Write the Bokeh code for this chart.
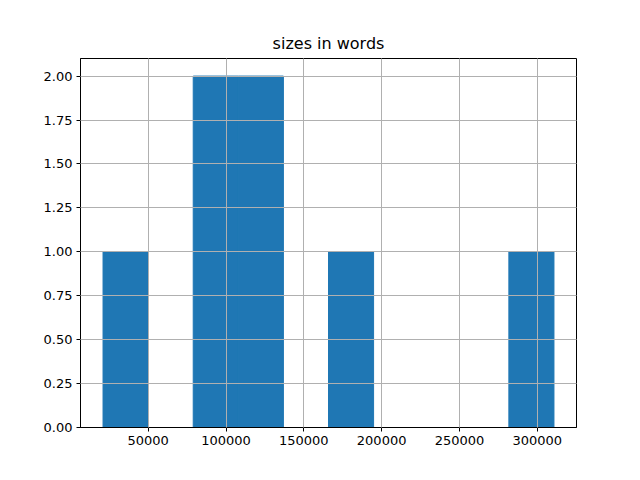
from bokeh.plotting import figure
from bokeh.embed import file_html
from bokeh.resources import INLINE
from bokeh.models import Range1d, FixedTicker, PrintfTickFormatter

# Histogram data (10 bins)
bin_edges = [21000, 49970, 78940, 107910, 136880, 165850, 194820, 223790, 252760, 281730, 310700]
counts = [1, 0, 2, 2, 0, 1, 0, 0, 0, 1]
x_ticks = [50000, 100000, 150000, 200000, 250000, 300000]
y_ticks = [0, 0.25, 0.5, 0.75, 1.0, 1.25, 1.5, 1.75, 2.0]

span = bin_edges[-1] - bin_edges[0]
p = figure(width=624, height=464, output_backend="svg", toolbar_location=None,
           title="sizes in words",
           x_range=Range1d(bin_edges[0] - 0.05 * span, bin_edges[-1] + 0.05 * span),
           y_range=Range1d(0, max(counts) * 1.05),
           min_border_left=80, min_border_right=48, min_border_top=58, min_border_bottom=37)

lefts = bin_edges[:-1]
rights = bin_edges[1:]
p.quad(left=lefts, right=rights, bottom=[0] * len(counts), top=counts,
       fill_color="#1f77b4", line_color="#1f77b4", line_width=1)

p.title.align = "center"
p.title.text_font = "DejaVu Sans"
p.title.text_font_size = "16px"
p.title.text_font_style = "normal"
p.title.text_color = "black"
p.title.standoff = 11

p.xaxis.ticker = FixedTicker(ticks=x_ticks)
p.yaxis.ticker = FixedTicker(ticks=y_ticks)
p.xaxis.formatter = PrintfTickFormatter(format="%d")
p.yaxis.formatter = PrintfTickFormatter(format="%.2f")
for ax in (p.xaxis, p.yaxis):
    ax.major_label_text_font = "DejaVu Sans"
    ax.major_label_text_font_size = "13px"
    ax.major_label_text_color = "black"
    ax.major_tick_in = 0
    ax.major_tick_out = 4
    ax.minor_tick_in = 0
    ax.minor_tick_out = 0
    ax.axis_line_color = "black"
    ax.major_tick_line_color = "black"
    ax.major_label_standoff = 4

p.outline_line_color = "black"
p.outline_line_width = 1
p.outline_line_alpha = 1

for g in (p.xgrid, p.ygrid):
    g.grid_line_color = "#b0b0b0"
    g.grid_line_width = 1
    g.level = "overlay"
p.xgrid.ticker = FixedTicker(ticks=x_ticks)
p.ygrid.ticker = FixedTicker(ticks=y_ticks)

open("out.html", "w").write(file_html(p, INLINE))
